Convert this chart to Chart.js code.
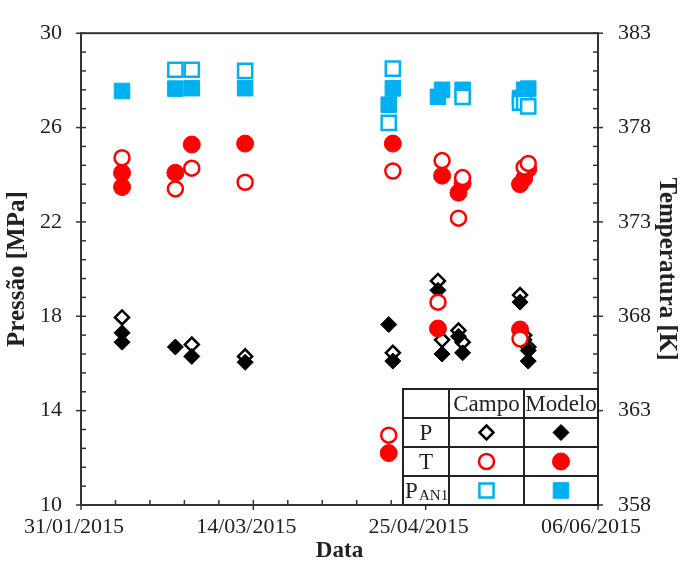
<!DOCTYPE html>
<html>
<head>
<meta charset="utf-8">
<script src="https://cdn.jsdelivr.net/npm/chart.js@4"></script>
<style>
  html, body { margin: 0; padding: 0; background: #fff; }
  #box { width: 684px; height: 565px; position: relative; }
</style>
</head>
<body>
<div id="box"><canvas id="myChart"></canvas></div>
<script>
// Datas e valores
const datasPCampo = ['10/02/2015', '27/02/2015', '12/03/2015', '17/04/2015', '28/04/2015', '29/04/2015', '03/05/2015', '04/05/2015', '18/05/2015', '19/05/2015', '20/05/2015'];
const valoresPCampo = [17.95, 16.8, 16.3, 16.45, 19.5, 17.0, 17.4, 16.9, 18.9, 17.2, 16.7];

const datasPModelo = ['10/02/2015', '10/02/2015', '23/02/2015', '27/02/2015', '12/03/2015', '16/04/2015', '17/04/2015', '28/04/2015', '29/04/2015', '03/05/2015', '04/05/2015', '18/05/2015', '19/05/2015', '20/05/2015', '20/05/2015'];
const valoresPModelo = [17.3, 16.9, 16.7, 16.3, 16.05, 17.65, 16.1, 19.1, 16.4, 17.15, 16.45, 18.6, 17.0, 16.55, 16.1];

const datasTCampo = ['10/02/2015', '23/02/2015', '27/02/2015', '12/03/2015', '16/04/2015', '17/04/2015', '28/04/2015', '29/04/2015', '03/05/2015', '04/05/2015', '18/05/2015', '19/05/2015', '20/05/2015'];
const valoresTCampo = [376.4, 374.75, 375.85, 375.1, 361.7, 375.7, 368.75, 376.25, 373.2, 375.35, 366.8, 375.9, 376.1];

const datasTModelo = ['10/02/2015', '10/02/2015', '23/02/2015', '27/02/2015', '12/03/2015', '16/04/2015', '17/04/2015', '28/04/2015', '29/04/2015', '03/05/2015', '04/05/2015', '18/05/2015', '18/05/2015', '19/05/2015', '20/05/2015'];
const valoresTModelo = [375.6, 374.85, 375.6, 377.1, 377.15, 360.75, 377.15, 367.35, 375.45, 374.55, 375.05, 367.3, 375.0, 375.3, 375.8];

const datasPanCampo = ['23/02/2015', '27/02/2015', '12/03/2015', '16/04/2015', '17/04/2015', '04/05/2015', '18/05/2015', '19/05/2015', '20/05/2015'];
const valoresPanCampo = [28.45, 28.45, 28.4, 26.2, 28.5, 27.3, 27.05, 27.05, 26.9];

const datasPanModelo = ['10/02/2015', '23/02/2015', '27/02/2015', '12/03/2015', '16/04/2015', '17/04/2015', '28/04/2015', '29/04/2015', '04/05/2015', '18/05/2015', '19/05/2015', '20/05/2015'];
const valoresPanModelo = [27.55, 27.65, 27.67, 27.67, 26.97, 27.66, 27.3, 27.6, 27.6, 27.25, 27.6, 27.65];

// eixos
const dataInicial = '31/01/2015';
const diasEntreTicks = 42;
const diasTotal = 126;

const fonte = '"Liberation Serif", "DejaVu Serif", serif';
const AZUL = '#00B0F0';
const VERMELHO = '#FF0000';
const PRETO = '#000000';

function paraUTC(s) {
    const [d, m, a] = s.split('/').map(Number);
    return Date.UTC(a, m - 1, d);
}
// dias desde a data inicial
function dias(s) {
    return (paraUTC(s) - paraUTC(dataInicial)) / 86400000;
}
function formataData(n) {
    const dt = new Date(paraUTC(dataInicial) + n * 86400000);
    const dd = String(dt.getUTCDate()).padStart(2, '0');
    const mm = String(dt.getUTCMonth() + 1).padStart(2, '0');
    return dd + '/' + mm + '/' + dt.getUTCFullYear();
}
function pontos(datas, valores) {
    return datas.map((d, i) => ({ x: dias(d), y: valores[i] }));
}

const estilos = {
    pCampo:   { pointStyle: 'rectRot', pointRadius: 7, pointBackgroundColor: '#fff', pointBorderColor: PRETO, pointBorderWidth: 2.5 },
    pModelo:  { pointStyle: 'rectRot', pointRadius: 8, pointBackgroundColor: PRETO, pointBorderColor: PRETO, pointBorderWidth: 1 },
    tCampo:   { pointStyle: 'circle', pointRadius: 7.5, pointBackgroundColor: '#fff', pointBorderColor: VERMELHO, pointBorderWidth: 2.5 },
    tModelo:  { pointStyle: 'circle', pointRadius: 8.5, pointBackgroundColor: VERMELHO, pointBorderColor: VERMELHO, pointBorderWidth: 1 },
    panCampo: { pointStyle: 'rect', pointRadius: 10, pointBackgroundColor: '#fff', pointBorderColor: AZUL, pointBorderWidth: 2.5 },
    panModelo:{ pointStyle: 'rect', pointRadius: 11, pointBackgroundColor: AZUL, pointBorderColor: AZUL, pointBorderWidth: 1 }
};

function desenhaPonto(ctx, est, x, y) {
    ctx.save();
    ctx.fillStyle = est.pointBackgroundColor;
    ctx.strokeStyle = est.pointBorderColor;
    ctx.lineWidth = est.pointBorderWidth;
    const r = est.pointRadius;
    ctx.beginPath();
    if (est.pointStyle === 'circle') {
        ctx.arc(x, y, r, 0, Math.PI * 2);
    } else if (est.pointStyle === 'rectRot') {
        ctx.moveTo(x, y - r); ctx.lineTo(x + r, y); ctx.lineTo(x, y + r); ctx.lineTo(x - r, y); ctx.closePath();
    } else {
        const s = r * Math.SQRT1_2;
        ctx.rect(x - s, y - s, 2 * s, 2 * s);
    }
    ctx.fill();
    ctx.stroke();
    ctx.restore();
}

// moldura, marcas dos eixos e a tabela-legenda
const molduraPlugin = {
    id: 'moldura',
    afterDraw(chart) {
        const ctx = chart.ctx;
        const a = chart.chartArea;
        const sx = chart.scales.x, sy = chart.scales.y, sy1 = chart.scales.y1;
        ctx.save();
        ctx.strokeStyle = '#333';
        ctx.lineWidth = 1.5;

        // marcas do eixo x
        for (let i = 0; i <= 15; i++) {
            const px = sx.getPixelForValue(i * diasTotal / 15);
            const major = i % 5 === 0;
            ctx.beginPath();
            ctx.moveTo(px, a.bottom + (major ? 5 : 0));
            ctx.lineTo(px, a.bottom - 5);
            ctx.stroke();
        }
        // marcas do eixo esquerdo
        for (let i = 0; i <= 25; i++) {
            const py = sy.getPixelForValue(10 + i * 0.8);
            const major = i % 5 === 0;
            ctx.beginPath();
            ctx.moveTo(a.left - (major ? 5 : 0), py);
            ctx.lineTo(a.left + 5, py);
            ctx.stroke();
        }
        // marcas do eixo direito
        for (let i = 0; i <= 25; i++) {
            const py = sy1.getPixelForValue(358 + i);
            const major = i % 5 === 0;
            ctx.beginPath();
            ctx.moveTo(a.right + (major ? 5 : 0), py);
            ctx.lineTo(a.right - 5, py);
            ctx.stroke();
        }
        ctx.lineWidth = 2;
        ctx.strokeRect(a.left, a.top, a.right - a.left, a.bottom - a.top);

        // tabela
        const colW = [46, 75, 74];
        const rowH = 29;
        const w = colW[0] + colW[1] + colW[2];
        const h = rowH * 4;
        const x0 = a.right - w, y0 = a.bottom - h;
        ctx.fillStyle = '#fff';
        ctx.fillRect(x0, y0, w, h);
        ctx.strokeStyle = '#222';
        ctx.lineWidth = 2;
        ctx.strokeRect(x0, y0, w, h);
        ctx.beginPath();
        for (let r = 1; r < 4; r++) {
            ctx.moveTo(x0, y0 + r * rowH); ctx.lineTo(x0 + w, y0 + r * rowH);
        }
        ctx.moveTo(x0 + colW[0], y0); ctx.lineTo(x0 + colW[0], y0 + h);
        ctx.moveTo(x0 + colW[0] + colW[1], y0); ctx.lineTo(x0 + colW[0] + colW[1], y0 + h);
        ctx.stroke();

        const cx = [x0 + colW[0] / 2, x0 + colW[0] + colW[1] / 2, x0 + colW[0] + colW[1] + colW[2] / 2];
        const cy = r => y0 + r * rowH + rowH / 2;
        ctx.fillStyle = '#222';
        ctx.textAlign = 'center';
        ctx.textBaseline = 'middle';
        ctx.font = '23px ' + fonte;
        ctx.fillText('Campo', cx[1], cy(0) + 1);
        ctx.fillText('Modelo', cx[2], cy(0) + 1);
        ctx.fillText('P', cx[0], cy(1) + 1);
        ctx.fillText('T', cx[0], cy(2) + 1);
        ctx.textAlign = 'left';
        ctx.fillText('P', x0 + 2, cy(3) + 1);
        ctx.font = '15px ' + fonte;
        ctx.fillText('AN1', x0 + 16, cy(3) + 6);

        desenhaPonto(ctx, estilos.pCampo, cx[1], cy(1));
        desenhaPonto(ctx, estilos.pModelo, cx[2], cy(1));
        desenhaPonto(ctx, estilos.tCampo, cx[1], cy(2));
        desenhaPonto(ctx, estilos.tModelo, cx[2], cy(2));
        desenhaPonto(ctx, estilos.panCampo, cx[1], cy(3));
        desenhaPonto(ctx, estilos.panModelo, cx[2], cy(3));
        ctx.restore();
    }
};

const ctx = document.getElementById('myChart').getContext('2d');
const myChart = new Chart(ctx, {
    type: 'scatter',
    data: {
        datasets: [
            { label: 'PAN1 Campo', data: pontos(datasPanCampo, valoresPanCampo), yAxisID: 'y', ...estilos.panCampo },
            { label: 'PAN1 Modelo', data: pontos(datasPanModelo, valoresPanModelo), yAxisID: 'y', ...estilos.panModelo },
            { label: 'T Campo', data: pontos(datasTCampo, valoresTCampo), yAxisID: 'y1', ...estilos.tCampo },
            { label: 'T Modelo', data: pontos(datasTModelo, valoresTModelo), yAxisID: 'y1', ...estilos.tModelo },
            { label: 'P Modelo', data: pontos(datasPModelo, valoresPModelo), yAxisID: 'y', ...estilos.pModelo },
            { label: 'P Campo', data: pontos(datasPCampo, valoresPCampo), yAxisID: 'y', ...estilos.pCampo }
        ]
    },
    options: {
        responsive: true,
        maintainAspectRatio: false,
        animation: false,
        layout: { padding: { top: 16, left: 0, right: 0, bottom: 0 } },
        plugins: {
            legend: { display: false },
            tooltip: { enabled: false }
        },
        scales: {
            x: {
                type: 'linear',
                position: 'bottom',
                min: 0,
                max: diasTotal,
                grid: { display: false, drawTicks: false },
                border: { display: false },
                ticks: {
                    stepSize: diasEntreTicks,
                    autoSkip: false,
                    maxRotation: 0,
                    padding: 9,
                    labelOffset: -7,
                    color: '#222',
                    font: { family: fonte, size: 22 },
                    callback: (v) => formataData(v)
                },
                title: {
                    display: true,
                    text: 'Data',
                    color: '#222',
                    padding: { top: 0, bottom: 0 },
                    font: { family: fonte, size: 23, weight: 'bold' }
                },
                afterFit: (s) => { s.height = 60; }
            },
            y: {
                position: 'left',
                min: 10,
                max: 30,
                grid: { display: false, drawTicks: false },
                border: { display: false },
                ticks: {
                    stepSize: 4,
                    padding: 19,
                    color: '#222',
                    font: { family: fonte, size: 22 }
                },
                title: {
                    display: true,
                    text: 'Pressão [MPa]',
                    color: '#222',
                    padding: { top: 3, bottom: 0 },
                    font: { family: fonte, size: 25, weight: 'bold' }
                },
                afterFit: (s) => { s.width = 81; }
            },
            y1: {
                position: 'right',
                min: 358,
                max: 383,
                grid: { display: false, drawTicks: false },
                border: { display: false },
                ticks: {
                    stepSize: 5,
                    padding: 20,
                    color: '#222',
                    font: { family: fonte, size: 22 }
                },
                title: {
                    display: true,
                    text: 'Temperatura [K]',
                    color: '#222',
                    padding: { top: 3, bottom: 0 },
                    font: { family: fonte, size: 25, weight: 'bold' }
                },
                afterFit: (s) => { s.width = 86; }
            }
        }
    },
    plugins: [molduraPlugin]
});
</script>
</body>
</html>
